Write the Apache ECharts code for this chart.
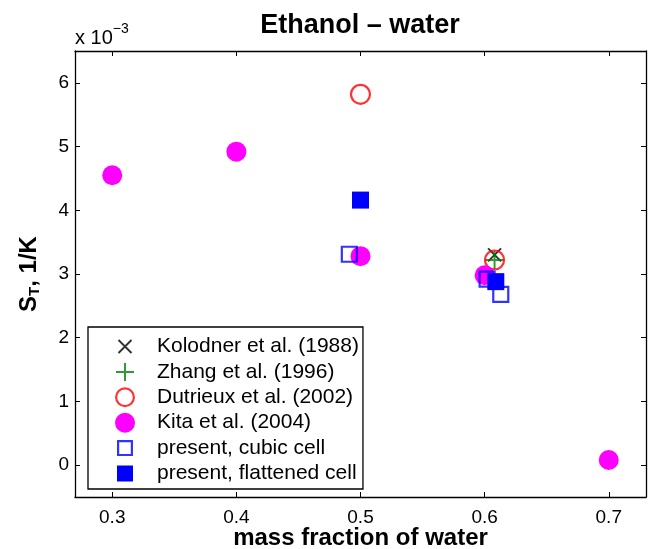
<!DOCTYPE html>
<html>
<head>
<meta charset="utf-8">
<script src="https://cdn.jsdelivr.net/npm/echarts@6/dist/echarts.min.js"></script>
<style>
  html, body { margin: 0; padding: 0; background: #fff; }
  #chart { width: 649px; height: 549px; }
</style>
</head>
<body>
<div id="chart"></div>
<script>
// values of S_T are in units of 1e-3 1/K
const kolodner = [[0.608, 3.30]]
const zhang = [[0.608, 3.22]]
const dutrieux = [[0.5, 5.82], [0.608, 3.22]]
const kita = [[0.3, 4.55], [0.4, 4.92], [0.5, 3.28], [0.6, 2.98], [0.7, 0.08]]
const cubic = [[0.491, 3.31], [0.602, 2.92], [0.613, 2.68]]
const flattened = [[0.5, 4.16], [0.609, 2.88]]

const xTicks = [0.3, 0.4, 0.5, 0.6, 0.7]
const yTicks = [0, 1, 2, 3, 4, 5, 6]

const font = 'Liberation Sans, Arial, Helvetica, sans-serif'

// legend icons as filled outlines in a 20x20 box (no stroke, so every row is the same height)
const crossIcon = 'path://M0,0M20,20M4.2,2.8L17.2,15.8L15.8,17.2L2.8,4.2ZM17.2,4.2L4.2,17.2L2.8,15.8L15.8,2.8Z'
const plusIcon = 'path://M0,0M20,20M9,1L11,1L11,9L19,9L19,11L11,11L11,19L9,19L9,11L1,11L1,9L9,9Z'
const ringIcon = 'path://M0,10A10,10,0,1,1,20,10A10,10,0,1,1,0,10ZM2.2,10A7.8,7.8,0,1,0,17.8,10A7.8,7.8,0,1,0,2.2,10Z'
const openSquareIcon = 'path://M0,0M20,20M2,2L18,2L18,18L2,18ZM4.2,4.2L4.2,15.8L15.8,15.8L15.8,4.2Z'
const squareIcon = 'path://M0,0M20,20M2,2L18,2L18,18L2,18Z'

const chart = echarts.init(document.getElementById('chart'))

const tickAxis = (extra) => Object.assign({
  type: 'value',
  axisLine: { show: true, onZero: false, lineStyle: { color: '#000', width: 1.3 } },
  splitLine: { show: false }
}, extra)

const noBorder = (color) => ({ color: color, borderWidth: 0 })

chart.setOption({
  animation: false,
  textStyle: { fontFamily: font },
  title: {
    text: 'Ethanol – water',
    left: 355,
    top: 7,
    textAlign: 'center',
    textStyle: { fontSize: 27, fontWeight: 'bold', color: '#000', fontFamily: font }
  },
  grid: { left: 75, right: 3, top: 51, bottom: 52, containLabel: false, outerBoundsMode: 'none' },
  graphic: [{
    type: 'text',
    left: 75,
    top: 22,
    style: {
      text: '{a|x 10}{e|−3}',
      rich: {
        a: { fontSize: 20, fontFamily: font, fill: '#000', verticalAlign: 'bottom', lineHeight: 26 },
        e: { fontSize: 14, fontFamily: font, fill: '#000', verticalAlign: 'top', lineHeight: 14 }
      }
    }
  }],
  xAxis: [
    tickAxis({
      position: 'bottom',
      min: 0.27, max: 0.73,
      name: 'mass fraction of water',
      nameLocation: 'middle',
      nameGap: 29,
      nameMoveOverlap: false,
      nameTextStyle: { fontSize: 24, fontWeight: 'bold', color: '#000', fontFamily: font },
      axisTick: { inside: true, length: 5, customValues: xTicks, lineStyle: { color: '#000' } },
      axisLabel: { customValues: xTicks, fontSize: 19, color: '#000', margin: 11 }
    }),
    tickAxis({
      position: 'top',
      min: 0.27, max: 0.73,
      axisTick: { inside: true, length: 5, customValues: xTicks, lineStyle: { color: '#000' } },
      axisLabel: { show: false }
    })
  ],
  yAxis: [
    tickAxis({
      position: 'left',
      min: -0.5, max: 6.5,
      name: '{b|S}{s|T}{b|, 1/K}',
      nameLocation: 'middle',
      nameRotate: 90,
      nameGap: 33,
      nameMoveOverlap: false,
      nameTextStyle: {
        color: '#000',
        rich: {
          b: { fontSize: 24, fontWeight: 'bold', fontFamily: font, color: '#000', lineHeight: 26 },
          s: { fontSize: 15, fontWeight: 'bold', fontFamily: font, color: '#000', verticalAlign: 'bottom', padding: [10, 0, 0, 0] }
        }
      },
      axisTick: { inside: true, length: 5, customValues: yTicks, lineStyle: { color: '#000' } },
      axisLabel: { customValues: yTicks, fontSize: 19, color: '#000', margin: 6 }
    }),
    tickAxis({
      position: 'right',
      min: -0.5, max: 6.5,
      axisTick: { inside: true, length: 5, customValues: yTicks, lineStyle: { color: '#000' } },
      axisLabel: { show: false }
    })
  ],
  legend: {
    orient: 'vertical',
    left: 88,
    top: 327,
    padding: [9, 4, 5, 27],
    itemWidth: 54,
    itemHeight: 20,
    itemGap: 4.4,
    borderColor: '#000',
    borderWidth: 1.3,
    backgroundColor: '#fff',
    selectedMode: false,
    textStyle: { fontSize: 21, color: '#000', fontFamily: font, lineHeight: 20 },
    data: [
      { name: 'Kolodner et al. (1988)', icon: crossIcon, itemStyle: noBorder('#000') },
      { name: 'Zhang et al. (1996)', icon: plusIcon, itemStyle: noBorder('#008000') },
      { name: 'Dutrieux et al. (2002)', icon: ringIcon, itemStyle: noBorder('#ff0000') },
      { name: 'Kita et al. (2004)', icon: 'circle', itemStyle: noBorder('#ff00ff') },
      { name: 'present, cubic cell', icon: openSquareIcon, itemStyle: noBorder('#0000ff') },
      { name: 'present, flattened cell', icon: squareIcon, itemStyle: noBorder('#0000ff') }
    ]
  },
  series: [
    {
      name: 'Kolodner et al. (1988)',
      type: 'scatter',
      data: kolodner,
      symbol: 'path://M0,0L10,10M10,0L0,10',
      symbolSize: 13,
      itemStyle: { color: 'none', borderColor: '#000', borderWidth: 2 }
    },
    {
      name: 'Zhang et al. (1996)',
      type: 'scatter',
      data: zhang,
      symbol: 'path://M5,0L5,10M0,5L10,5',
      symbolSize: 18,
      itemStyle: { color: 'none', borderColor: '#008000', borderWidth: 2 }
    },
    {
      name: 'Dutrieux et al. (2002)',
      type: 'scatter',
      data: dutrieux,
      symbol: 'circle',
      symbolSize: 19,
      itemStyle: { color: 'none', borderColor: '#ff0000', borderWidth: 2.2 }
    },
    {
      name: 'Kita et al. (2004)',
      type: 'scatter',
      data: kita,
      symbol: 'circle',
      symbolSize: 20,
      itemStyle: { color: '#ff00ff', opacity: 1 }
    },
    {
      name: 'present, cubic cell',
      type: 'scatter',
      data: cubic,
      symbol: 'rect',
      symbolSize: 15,
      itemStyle: { color: 'none', borderColor: '#0000ff', borderWidth: 2.2 }
    },
    {
      name: 'present, flattened cell',
      type: 'scatter',
      data: flattened,
      symbol: 'rect',
      symbolSize: 17,
      itemStyle: { color: '#0000ff', opacity: 1 }
    }
  ]
})
</script>
</body>
</html>
